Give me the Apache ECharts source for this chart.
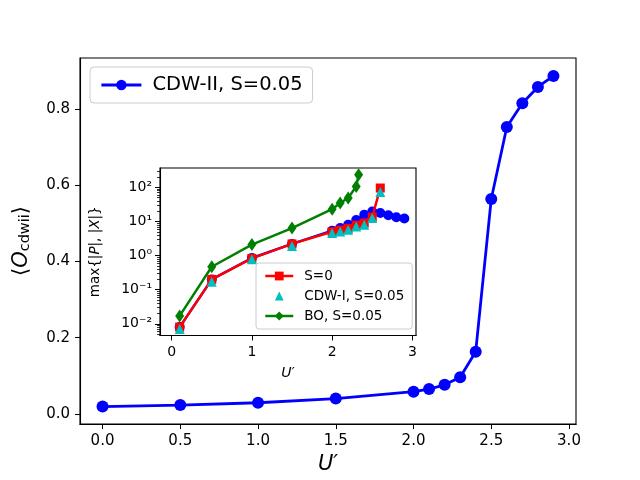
<!DOCTYPE html>
<html>
<head>
<meta charset="utf-8">
<script src="https://cdn.jsdelivr.net/npm/echarts@6/dist/echarts.min.js"></script>
<style>
  html, body { margin: 0; padding: 0; background: #fff; }
  #chart { width: 640px; height: 480px; }
</style>
</head>
<body>
<div id="chart"></div>
<script>
// main plot data ------------------
var mainU = [0, 0.5, 1.0, 1.5, 2.0, 2.1, 2.2, 2.3, 2.4, 2.5, 2.6, 2.7, 2.8, 2.9];
var mainO = [0.019, 0.023, 0.029, 0.040, 0.058, 0.065, 0.076, 0.096, 0.163, 0.564, 0.753, 0.815, 0.858, 0.887];

// inset data (log scale) ----------
var insetBlueU = [0.1, 0.5, 1.0, 1.5, 2.0, 2.1, 2.2, 2.3, 2.4, 2.5, 2.6, 2.7, 2.8, 2.9];
var insetBlueP = [0.008, 0.2, 0.85, 2.2, 5.4, 6.4, 8.0, 11, 15.7, 19.6, 17.7, 15.2, 13.3, 12.3];
var redU = [0.1, 0.5, 1.0, 1.5, 2.0, 2.1, 2.2, 2.3, 2.4, 2.5, 2.6];
var redP = [0.008, 0.2, 0.83, 2.2, 5.0, 5.6, 6.3, 7.8, 9.0, 13.5, 96];
var cyanU = [0.1, 0.5, 1.0, 1.5, 2.0, 2.1, 2.2, 2.3, 2.4, 2.5, 2.6];
var cyanP = [0.007, 0.17, 0.78, 1.9, 4.6, 5.1, 5.7, 7.1, 8.0, 12.6, 73];
var greenU = [0.1, 0.5, 1.0, 1.5, 2.0, 2.1, 2.2, 2.3, 2.33];
var greenP = [0.017, 0.47, 2.1, 6.4, 23, 35, 49, 107, 236];

// ticks ---------------------------
var mainXTicks = [0, 0.5, 1.0, 1.5, 2.0, 2.5, 3.0];
var mainYTicks = [0, 0.2, 0.4, 0.6, 0.8];
var insetXTicks = [0, 1, 2, 3];
var insetYTicks = [0.01, 0.1, 1, 10, 100];
var insetYLabels = ['10\u207b\u00b2', '10\u207b\u00b9', '10\u2070', '10\u00b9', '10\u00b2'];

var insetYMin = 0.00453, insetYMax = 371;
var minorTicks = [];
[0.001, 0.01, 0.1, 1, 10, 100].forEach(function (d) {
    for (var k = 2; k <= 9; k++) {
        var v = +(d * k).toPrecision(2);
        if (v > insetYMin && v < insetYMax) minorTicks.push(v);
    }
});

function pairs(xs, ys) {
    return xs.map(function (x, i) { return [x, ys[i]]; });
}

var FONT = 'DejaVu Sans';
var AXIS_LINE = { show: true, onZero: false, lineStyle: { color: '#000', width: 1.1 } };
var myChart = echarts.init(document.getElementById('chart'));

var option = {
    backgroundColor: '#ffffff',
    animation: false,
    textStyle: { fontFamily: FONT, color: '#000' },
    grid: [
        { left: 80, top: 58, width: 496, height: 369, show: true, borderColor: '#000', borderWidth: 1.1, backgroundColor: '#fff' },
        { left: 160, top: 168, width: 256, height: 167.5, show: true, borderColor: '#000', borderWidth: 1.1, backgroundColor: '#fff', z: 5 }
    ],
    legend: [
        {
            data: ['CDW-II, S=0.05'],
            left: 90, top: 67,
            padding: [8, 10],
            itemWidth: 40, itemHeight: 13,
            backgroundColor: 'rgba(255,255,255,0.8)',
            borderColor: '#cccccc', borderWidth: 1, borderRadius: 4,
            lineStyle: { width: 2.8 },
            textStyle: { fontFamily: FONT, fontSize: 19.5, color: '#000', padding: [0, 0, 0, 6] }
        },
        {
            data: ['S=0', 'CDW-I, S=0.05', 'BO, S=0.05'],
            orient: 'vertical',
            left: 256, top: 263,
            padding: [6, 8],
            itemGap: 6, itemWidth: 28, itemHeight: 11,
            backgroundColor: 'rgba(255,255,255,0.8)',
            borderColor: '#cccccc', borderWidth: 1, borderRadius: 3,
            lineStyle: { width: 2.5 },
            textStyle: { fontFamily: FONT, fontSize: 13.5, color: '#000', padding: [0, 0, 0, 6] },
            z: 10
        }
    ],
    xAxis: [
        {
            type: 'value', gridIndex: 0, min: -0.145, max: 3.045,
            name: 'U\u2032', nameLocation: 'middle', nameGap: 27,
            nameTextStyle: { fontFamily: FONT, fontSize: 21, fontStyle: 'italic', color: '#000' },
            axisLine: AXIS_LINE,
            axisTick: { show: true, inside: false, length: 5, customValues: mainXTicks, lineStyle: { color: '#000', width: 1 } },
            axisLabel: { customValues: mainXTicks, margin: 10, fontSize: 15, color: '#000', fontFamily: FONT,
                formatter: function (v) { return v.toFixed(1); } },
            splitLine: { show: false }
        },
        {
            type: 'value', gridIndex: 1, min: -0.145, max: 3.045,
            name: 'U\u2032', nameLocation: 'middle', nameGap: 31,
            nameTextStyle: { fontFamily: FONT, fontSize: 14, fontStyle: 'italic', color: '#000' },
            axisLine: AXIS_LINE,
            axisTick: { show: true, inside: false, length: 5, customValues: insetXTicks, lineStyle: { color: '#000', width: 1 } },
            axisLabel: { customValues: insetXTicks, margin: 10, fontSize: 14, color: '#000', fontFamily: FONT },
            splitLine: { show: false },
            z: 6
        }
    ],
    yAxis: [
        {
            type: 'value', gridIndex: 0, min: -0.027, max: 0.934,
            name: '\u27e8{it|O}{sub|cdwii}\u27e9', nameLocation: 'middle', nameGap: 47,
            nameTextStyle: { fontFamily: FONT, fontSize: 21, color: '#000',
                rich: {
                    it: { fontFamily: FONT, fontSize: 21, fontStyle: 'italic' },
                    sub: { fontFamily: FONT, fontSize: 14.5, verticalAlign: 'bottom', padding: [8, 0, 0, 0] }
                } },
            axisLine: AXIS_LINE,
            axisTick: { show: true, inside: false, length: 5, customValues: mainYTicks, lineStyle: { color: '#000', width: 1 } },
            axisLabel: { customValues: mainYTicks, margin: 10, fontSize: 15, color: '#000', fontFamily: FONT,
                formatter: function (v) { return v.toFixed(1); } },
            splitLine: { show: false }
        },
        {
            type: 'log', logBase: 10, gridIndex: 1, min: insetYMin, max: insetYMax,
            name: 'max{|{it|P}|, |{it|X}|}', nameLocation: 'middle', nameGap: 58,
            nameTextStyle: { fontFamily: FONT, fontSize: 13.5, color: '#000',
                rich: { it: { fontFamily: FONT, fontSize: 13.5, fontStyle: 'italic' } } },
            axisLine: AXIS_LINE,
            axisTick: { show: true, inside: false, length: 5, customValues: insetYTicks, lineStyle: { color: '#000', width: 1 } },
            axisLabel: { customValues: insetYTicks, margin: 8, fontSize: 14, color: '#000', fontFamily: FONT,
                formatter: function (v) {
                    var i = insetYTicks.indexOf(v);
                    return i >= 0 ? insetYLabels[i] : '';
                } },
            splitLine: { show: false },
            z: 6
        },
        {
            // minor log ticks
            type: 'log', logBase: 10, gridIndex: 1, min: insetYMin, max: insetYMax,
            position: 'left',
            axisLine: { show: false, onZero: false },
            axisTick: { show: true, inside: false, length: 3, customValues: minorTicks, lineStyle: { color: '#000', width: 0.8 } },
            axisLabel: { show: false },
            splitLine: { show: false },
            z: 6
        }
    ],
    series: [
        {
            name: 'CDW-II, S=0.05', type: 'line',
            xAxisIndex: 0, yAxisIndex: 0,
            data: pairs(mainU, mainO),
            symbol: 'circle', symbolSize: 12,
            lineStyle: { color: '#0000ff', width: 2.8 },
            itemStyle: { color: '#0000ff' }
        },
        {
            name: 'CDW-II inset', type: 'line',
            xAxisIndex: 1, yAxisIndex: 1,
            data: pairs(insetBlueU, insetBlueP),
            symbol: 'circle', symbolSize: 10,
            lineStyle: { color: '#0000ff', width: 2.5 },
            itemStyle: { color: '#0000ff' },
            z: 6
        },
        {
            name: 'S=0', type: 'line',
            xAxisIndex: 1, yAxisIndex: 1,
            data: pairs(redU, redP),
            symbol: 'rect', symbolSize: 9,
            lineStyle: { color: '#ff0000', width: 2.5 },
            itemStyle: { color: '#ff0000' },
            z: 7
        },
        {
            // markers only, no connecting line
            name: 'CDW-I, S=0.05', type: 'line',
            xAxisIndex: 1, yAxisIndex: 1,
            data: pairs(cyanU, cyanP),
            symbol: 'triangle', symbolSize: 10,
            lineStyle: { width: 0, opacity: 0 },
            itemStyle: { color: '#00bfbf' },
            z: 8
        },
        {
            name: 'BO, S=0.05', type: 'line',
            xAxisIndex: 1, yAxisIndex: 1,
            data: pairs(greenU, greenP),
            symbol: 'diamond', symbolSize: [9, 13],
            lineStyle: { color: '#008000', width: 2.5 },
            itemStyle: { color: '#008000' },
            z: 9
        }
    ]
};

myChart.setOption(option);
</script>
</body>
</html>
